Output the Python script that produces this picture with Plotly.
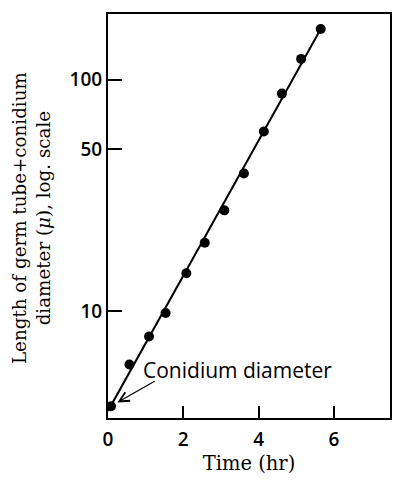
import plotly.graph_objects as go

# Germ tube growth measurements
time_hr = [0.08, 0.57, 1.09, 1.53, 2.08, 2.57, 3.09, 3.61, 4.14, 4.62, 5.13, 5.65]
length_um = [3.9, 5.9, 7.8, 9.85, 14.6, 19.8, 27.3, 39.4, 59.8, 87.1, 123.0, 165.5]

# Fitted exponential growth line
fit_time = [0.0, 5.65]
fit_length = [3.72, 165.5]

x_ticks = [0, 2, 4, 6]
y_ticks = [10, 50, 100]
y_tick_text = ["10", "50", "100"]

fig = go.Figure()
fig.add_trace(go.Scatter(x=fit_time, y=fit_length, mode="lines",
                         line=dict(color="black", width=2), showlegend=False))
fig.add_trace(go.Scatter(x=time_hr, y=length_um, mode="markers",
                         marker=dict(color="black", size=10), showlegend=False))

sans = "Open Sans"
serif = "DejaVu Serif"

fig.update_layout(
    width=394, height=481,
    margin=dict(l=108, r=2, t=14, b=63),
    paper_bgcolor="white", plot_bgcolor="white",
    showlegend=False,
    xaxis=dict(
        range=[0, 7.49], tickvals=x_ticks, ticks="inside", ticklen=12,
        tickwidth=2, tickcolor="black", showline=True, linecolor="black",
        linewidth=2, mirror=True, showgrid=False, zeroline=False,
        tickfont=dict(family=sans, size=19, color="black", weight=600),
        ticklabelstandoff=3,
        title=dict(text="Time (hr)", font=dict(family=serif, size=19.5, color="black"),
                   standoff=4),
    ),
    yaxis=dict(
        type="log", range=[0.540, 2.2836], tickvals=y_ticks, ticktext=y_tick_text,
        ticks="inside", ticklen=14, tickwidth=2, tickcolor="black",
        showline=True, linecolor="black", linewidth=2, mirror=True,
        showgrid=False, zeroline=False,
        tickfont=dict(family=sans, size=19, color="black", weight=600),
    ),
    annotations=[
        dict(text="Length of germ tube+conidium<br>diameter (<i>μ</i>), log. scale",
             xref="paper", yref="paper", x=0, y=0.495, xshift=-77,
             xanchor="center", yanchor="middle", textangle=-90, showarrow=False,
             font=dict(family=serif, size=18.3, color="black")),
        dict(text="Conidium diameter", xref="x", yref="y",
             x=0.874, y=0.7454, xanchor="left", yanchor="middle",
             showarrow=False, font=dict(family=sans, size=21, color="black")),
        dict(text="", xref="x", yref="y", x=0.25, y=0.6073,
             ax=38.7, ay=-22, axref="pixel", ayref="pixel",
             showarrow=True, arrowhead=5, arrowsize=1.6, arrowwidth=1.2,
             arrowcolor="black"),
    ],
)

fig.write_html("out.html")
